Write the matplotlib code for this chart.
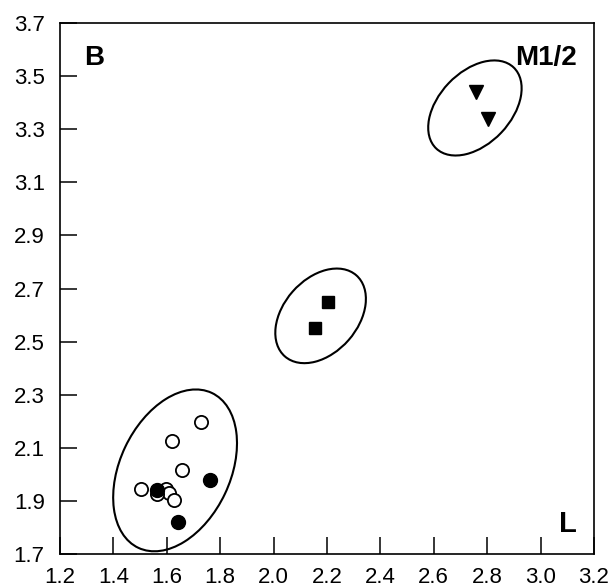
import matplotlib
matplotlib.use("Agg")
import matplotlib.pyplot as plt
from matplotlib.patches import Ellipse

plt.rcParams["font.family"] = ["Liberation Sans", "DejaVu Sans"]

# M1/2 measurements: length (L) vs breadth (B)
open_L = [1.728, 1.621, 1.658, 1.503, 1.597, 1.608, 1.627, 1.563]
open_B = [2.198, 2.126, 2.016, 1.945, 1.945, 1.930, 1.903, 1.926]

filled_L = [1.562, 1.762, 1.643]
filled_B = [1.941, 1.979, 1.819]

square_L = [2.205, 2.155]
square_B = [2.650, 2.550]

tri_L = [2.758, 2.802]
tri_B = [3.440, 3.338]

# group ellipses: centre x, centre y, width, height, angle
ell_x = [1.631, 2.176, 2.754]
ell_y = [2.015, 2.597, 3.380]
ell_w = [0.645, 0.406, 0.421]
ell_h = [0.413, 0.278, 0.271]
ell_a = [64.8, 48.9, 46.6]

xticks = [1.2, 1.4, 1.6, 1.8, 2.0, 2.2, 2.4, 2.6, 2.8, 3.0, 3.2]
yticks = [1.7, 1.9, 2.1, 2.3, 2.5, 2.7, 2.9, 3.1, 3.3, 3.5, 3.7]

fig = plt.figure(figsize=(6.13, 5.87), dpi=100)
ax = fig.add_axes([0.0979, 0.0562, 0.969 - 0.0979, 0.9608 - 0.0562])

for x, y, w, h, a in zip(ell_x, ell_y, ell_w, ell_h, ell_a):
    ax.add_patch(Ellipse((x, y), w, h, angle=a, fill=False,
                         edgecolor="black", linewidth=1.5, zorder=2))

ax.plot(open_L, open_B, "o", ms=9.5, mfc="white", mec="black", mew=1.3, zorder=3)
ax.plot(filled_L, filled_B, "o", ms=10, mfc="black", mec="black", zorder=4)
ax.plot(square_L, square_B, "s", ms=8.5, mfc="black", mec="black", zorder=3)
ax.plot(tri_L, tri_B, "v", ms=10, mfc="black", mec="black", zorder=3)

ax.set_xlim(1.2, 3.2)
ax.set_ylim(1.7, 3.7)
ax.set_xticks(xticks)
ax.set_yticks(yticks)
ax.set_xticklabels([f"{v:.1f}" for v in xticks])
ax.set_yticklabels([f"{v:.1f}" for v in yticks])
ax.tick_params(axis="both", direction="in", length=12, width=1.1,
               labelsize=16, top=False, right=False)
ax.tick_params(axis="x", pad=9)
ax.tick_params(axis="y", pad=11)
for s in ax.spines.values():
    s.set_linewidth(1.2)

ax.text(0.045, 0.958, "B", transform=ax.transAxes, fontsize=20,
        fontweight="bold", ha="left", va="top")
ax.text(0.967, 0.958, "M1/2", transform=ax.transAxes, fontsize=20,
        fontweight="bold", ha="right", va="top")
ax.text(0.967, 0.03, "L", transform=ax.transAxes, fontsize=21,
        fontweight="bold", ha="right", va="bottom")

fig.savefig("out.png", dpi=100)
